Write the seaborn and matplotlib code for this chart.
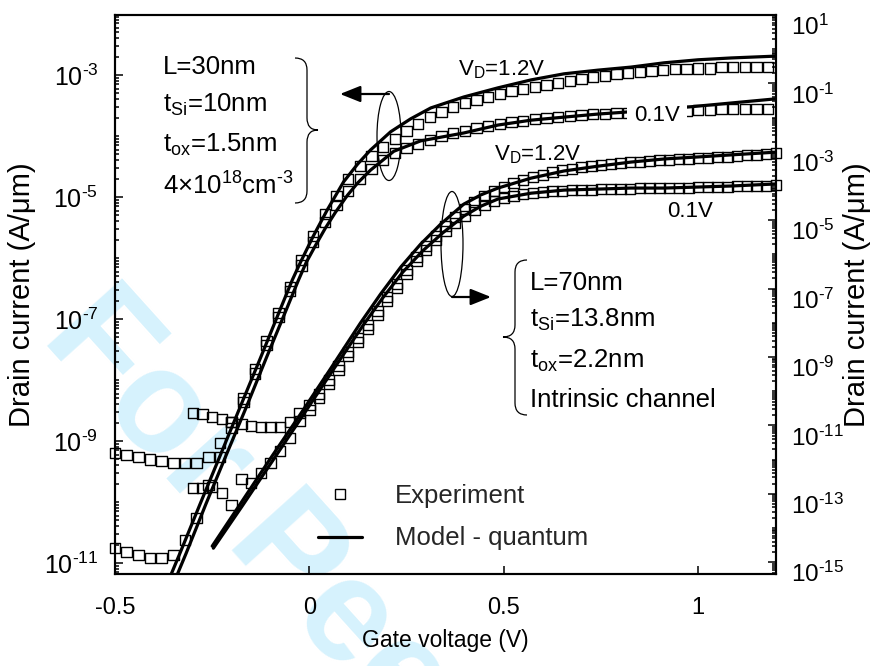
import numpy as np
import pandas as pd
import matplotlib
matplotlib.use("Agg")
import matplotlib.pyplot as plt
import seaborn as sns
from matplotlib.lines import Line2D
from matplotlib.patches import Ellipse, PathPatch, FancyArrowPatch
from matplotlib.path import Path
from matplotlib.ticker import LogLocator, NullFormatter, NullLocator
from matplotlib.transforms import ScaledTranslation

# ---------------- gate-voltage sweeps (V) ----------------
vg_30 = np.round(np.linspace(-0.50, 1.18, 57), 3)   # L = 30 nm device, 30 mV step
vg_70 = np.round(np.linspace(-0.30, 1.20, 61), 3)   # L = 70 nm device, 25 mV step

# ---------------- measured drain current, log10(A/um) ----------------
exp30_vd12 = [-9.20, -9.23, -9.26, -9.30, -9.33, -9.36, -9.36, -9.36, -9.26, -9.03,
              -8.69, -8.30, -7.82, -7.36, -6.90, -6.48, -6.03, -5.64, -5.28, -4.98,
              -4.70, -4.49, -4.33, -4.18, -4.05, -3.92, -3.80, -3.69, -3.61, -3.52,
              -3.46, -3.41, -3.36, -3.31, -3.26, -3.23, -3.20, -3.16, -3.13, -3.10,
              -3.07, -3.03, -3.02, -2.98, -2.97, -2.95, -2.93, -2.92, -2.90, -2.90,
              -2.89, -2.89, -2.87, -2.87, -2.87, -2.87, -2.87]
exp30_vd01 = [-10.75, -10.82, -10.87, -10.92, -10.92, -10.87, -10.62, -10.26, -9.72, -9.26,
              -8.79, -8.36, -7.89, -7.43, -6.97, -6.54, -6.12, -5.74, -5.41, -5.13,
              -4.90, -4.70, -4.54, -4.39, -4.28, -4.20, -4.13, -4.07, -4.00, -3.95,
              -3.92, -3.87, -3.84, -3.80, -3.77, -3.75, -3.72, -3.70, -3.69, -3.67,
              -3.66, -3.64, -3.64, -3.62, -3.62, -3.61, -3.61, -3.59, -3.59, -3.59,
              -3.57, -3.57, -3.56, -3.56, -3.56, -3.56, -3.56]
exp70_vd12 = [-10.64, -10.67, -10.75, -10.81, -10.90, -10.96, -11.02, -11.05, -11.05, -11.05,
              -10.90, -10.64, -10.40, -10.08, -9.67, -9.26, -8.85, -8.44, -8.06, -7.65,
              -7.25, -6.87, -6.46, -6.08, -5.75, -5.46, -5.17, -4.91, -4.67, -4.47,
              -4.29, -4.15, -4.03, -3.91, -3.83, -3.74, -3.68, -3.59, -3.53, -3.50,
              -3.44, -3.42, -3.39, -3.36, -3.33, -3.30, -3.30, -3.27, -3.24, -3.24,
              -3.21, -3.21, -3.18, -3.18, -3.15, -3.15, -3.12, -3.09, -3.09, -3.06,
              -3.04]
exp70_vd01 = [-12.83, -12.83, -12.80, -12.98, -13.33, -12.57, -12.68, -12.39, -12.10, -11.75,
              -11.37, -10.87, -10.55, -10.20, -9.79, -9.38, -8.97, -8.56, -8.18, -7.77,
              -7.36, -6.98, -6.57, -6.19, -5.87, -5.58, -5.32, -5.08, -4.88, -4.70,
              -4.56, -4.44, -4.35, -4.29, -4.23, -4.21, -4.18, -4.15, -4.15, -4.12,
              -4.12, -4.12, -4.09, -4.09, -4.09, -4.09, -4.06, -4.06, -4.06, -4.06,
              -4.06, -4.06, -4.03, -4.03, -4.03, -4.03, -4.00, -4.00, -4.00, -4.00,
              -3.97]

# ---------------- quantum model, log10(A/um) ----------------
mod30_vd12_vg = [-0.369, -0.333, -0.281, -0.229, -0.178, -0.126, -0.075, -0.044, -0.023, 0.010,
                 0.046, 0.088, 0.124, 0.157, 0.209, 0.260, 0.312, 0.397, 0.485, 0.570,
                 0.655, 0.742, 0.827, 0.912, 1.000, 1.085, 1.200]
mod30_vd12 = [-11.39, -10.84, -10.03, -9.23, -8.44, -7.64, -6.84, -6.36, -6.07, -5.64,
              -5.21, -4.75, -4.46, -4.23, -3.93, -3.72, -3.54, -3.36, -3.21, -3.08,
              -2.98, -2.92, -2.87, -2.80, -2.75, -2.72, -2.69]
mod30_vd01_vg = [-0.353, -0.317, -0.266, -0.214, -0.162, -0.111, -0.059, -0.028, -0.008, 0.016,
                 0.041, 0.067, 0.098, 0.124, 0.157, 0.217, 0.286, 0.397, 0.485, 0.570,
                 0.655, 0.742, 0.809, 0.982, 1.200]
mod30_vd01 = [-11.39, -10.84, -10.03, -9.23, -8.44, -7.64, -6.84, -6.36, -6.07, -5.79,
              -5.51, -5.25, -4.97, -4.77, -4.56, -4.25, -4.08, -3.95, -3.82, -3.74,
              -3.69, -3.64, -3.61, -3.52, -3.39]
mod70_vd12_vg = [-0.250, -0.178, -0.101, -0.023, 0.054, 0.131, 0.183, 0.235, 0.286, 0.338,
                 0.397, 0.441, 0.485, 0.570, 0.655, 0.742, 0.827, 0.912, 1.000, 1.085, 1.200]
mod70_vd12 = [-14.53, -13.30, -11.98, -10.67, -9.35, -8.01, -7.16, -6.37, -5.70, -5.11,
              -4.53, -4.26, -4.06, -3.77, -3.56, -3.42, -3.30, -3.21, -3.15, -3.09, -3.01]
mod70_vd01_vg = [-0.247, -0.173, -0.095, -0.018, 0.059, 0.137, 0.188, 0.240, 0.291, 0.343,
                 0.397, 0.441, 0.485, 0.570, 0.655, 0.742, 0.827, 0.912, 1.000, 1.085, 1.200]
mod70_vd01 = [-14.59, -13.36, -12.04, -10.73, -9.41, -8.09, -7.28, -6.52, -5.90, -5.37,
              -4.88, -4.59, -4.38, -4.21, -4.12, -4.09, -4.06, -4.06, -4.03, -4.00, -3.94]

left_exps = [-11, -9, -7, -5, -3]
right_exps = [-15, -13, -11, -9, -7, -5, -3, -1, 1]
x_ticks = [-0.5, 0.0, 0.5, 1.0]
x_labels = ["-0.5", "0", "0.5", "1"]


def pow10_label(e):
    # short hyphen in the exponent, as in the printed axis
    s = str(e).replace("-", "\u2010")
    return r"$\mathregular{10^{" + s + "}}$"


# ---------------- style ----------------
sns.set_theme(style="white")
plt.rcParams["font.family"] = ["Liberation Sans", "DejaVu Sans"]
plt.rcParams["mathtext.fontset"] = "custom"
plt.rcParams["mathtext.rm"] = "Liberation Sans"
plt.rcParams["mathtext.it"] = "Liberation Sans:italic"
plt.rcParams["mathtext.bf"] = "Liberation Sans:bold"
plt.rcParams["axes.unicode_minus"] = False

W, H = 872, 666
fig = plt.figure(figsize=(W / 100, H / 100), dpi=100)
fig.patch.set_facecolor("white")


def fpt(x, y):
    """figure-pixel position (origin top-left) -> figure fraction"""
    return (x / W, 1 - y / H)


ax = fig.add_axes([115 / W, 1 - 573.5 / H, (776 - 115) / W, (573.5 - 15) / H])
ax2 = ax.twinx()
for a in (ax, ax2):
    a.set_facecolor("none")


def frame(vg, logi):
    return pd.DataFrame({"vg": np.asarray(vg, dtype=float), "id": 10.0 ** np.asarray(logi)})


scat_kw = dict(marker="s", s=56, facecolor="none", edgecolor="black", linewidth=1.0,
               clip_on=False, zorder=3, legend=False)
line_kw = dict(color="black", linewidth=2.3, sort=False, estimator=None, legend=False, zorder=2)

# L = 30 nm  (left axis)
for vg, li in ((vg_30, exp30_vd12), (vg_30, exp30_vd01)):
    sns.scatterplot(data=frame(vg, li), x="vg", y="id", ax=ax, **scat_kw)
for vg, li in ((mod30_vd12_vg, mod30_vd12), (mod30_vd01_vg, mod30_vd01)):
    sns.lineplot(data=frame(vg, li), x="vg", y="id", ax=ax, **line_kw)

# L = 70 nm  (right axis)
for vg, li in ((vg_70, exp70_vd12), (vg_70, exp70_vd01)):
    sns.scatterplot(data=frame(vg, li), x="vg", y="id", ax=ax2, **scat_kw)
for vg, li in ((mod70_vd12_vg, mod70_vd12), (mod70_vd01_vg, mod70_vd01)):
    sns.lineplot(data=frame(vg, li), x="vg", y="id", ax=ax2, **line_kw)

# ---------------- axes ----------------
ax.set_yscale("log")
ax2.set_yscale("log")
ax.set_ylim(10 ** -11.172, 10 ** -2.016)
ax2.set_ylim(10 ** -15.33, 10 ** 1.0)
ax.set_xlim(-0.5, 1.2)

ax.set_xticks(x_ticks, labels=x_labels)
ax.xaxis.set_minor_locator(NullLocator())
ax.set_yticks([10.0 ** e for e in left_exps], labels=[pow10_label(e) for e in left_exps])
ax.yaxis.set_minor_locator(LogLocator(base=10, subs=np.arange(1, 10), numticks=200))
ax.yaxis.set_minor_formatter(NullFormatter())
ax2.set_yticks([10.0 ** e for e in right_exps], labels=[pow10_label(e) for e in right_exps])
ax2.yaxis.set_minor_locator(LogLocator(base=10, subs=np.arange(1, 10), numticks=200))
ax2.yaxis.set_minor_formatter(NullFormatter())

ax.tick_params(axis="both", which="both", direction="in", top=False, right=False,
               bottom=True, left=True, width=1.1, colors="black")
ax.tick_params(axis="x", labelsize=17, pad=17)
ax.tick_params(axis="y", labelsize=18, pad=12)
ax.tick_params(axis="both", which="major", length=6)
ax.tick_params(axis="y", which="minor", length=3)
ax2.tick_params(axis="y", which="both", direction="in", left=False, right=True,
                labelsize=17.5, width=1.1, colors="black", pad=11)
ax2.tick_params(axis="y", which="major", length=6)
ax2.tick_params(axis="y", which="minor", length=3)

for a in (ax, ax2):
    for sp in a.spines.values():
        sp.set_color("black")
        sp.set_linewidth(1.5)
        sp.set_visible(True)

ax.set_xlabel("Gate voltage (V)", fontsize=16.5, color="black")
ax.xaxis.label.set_va("center")
ax.xaxis.set_label_coords(0.5, (573.5 - 640) / 558.5)
ax.set_ylabel("Drain current (A/μm)", fontsize=21, color="black")
ax.yaxis.label.set_va("center")
ax.yaxis.set_label_coords((22 - 115) / 661, 0.5)
ax2.set_ylabel("Drain current (A/μm)", fontsize=21, color="black", rotation=90)
ax2.yaxis.label.set_va("center")
ax2.yaxis.set_label_coords((857 - 115) / 661, 0.5)

# right-hand labels sit just below their ticks
shift = ScaledTranslation(0, -0.10, fig.dpi_scale_trans)
for lbl in ax2.get_yticklabels():
    lbl.set_transform(lbl.get_transform() + shift)

# ---------------- legend ----------------
handles = [Line2D([], [], marker="s", ls="none", mfc="none", mec="black", ms=7.5, mew=1.0),
           Line2D([], [], color="black", lw=2.3)]
fig.legend(handles, ["Experiment", "Model - quantum"], loc="upper left",
           bbox_to_anchor=fpt(318, 484), bbox_transform=fig.transFigure,
           frameon=False, fontsize=18.5, handlelength=1.7, handletextpad=1.3,
           labelspacing=0.72, borderpad=0, borderaxespad=0)

# ---------------- annotations ----------------
txt = dict(fontsize=18.5, color="black", ha="left", va="baseline")
fig.text(*fpt(163, 74), "L=30nm", **txt)
fig.text(*fpt(163, 112), r"t$\mathregular{_{Si}}$=10nm", **txt)
fig.text(*fpt(163, 152), r"t$\mathregular{_{ox}}$=1.5nm", **txt)
fig.text(*fpt(163, 195), "4×10$\\mathregular{^{18}}$cm$\\mathregular{^{\u20103}}$", **txt)

fig.text(*fpt(530, 290), "L=70nm", **txt)
fig.text(*fpt(530, 327), r"t$\mathregular{_{Si}}$=13.8nm", **txt)
fig.text(*fpt(530, 368), r"t$\mathregular{_{ox}}$=2.2nm", **txt)
fig.text(*fpt(530, 407), "Intrinsic channel", **txt)

vtxt = dict(fontsize=16, color="black", ha="center", va="baseline")
fig.text(*fpt(502, 75), r"V$\mathregular{_D}$=1.2V", **vtxt)
fig.text(*fpt(657, 121), "0.1V", bbox=dict(facecolor="white", edgecolor="none", pad=5), **vtxt)
fig.text(*fpt(538, 160), r"V$\mathregular{_D}$=1.2V", **vtxt)
fig.text(*fpt(690, 217), "0.1V", **vtxt)


def brace(xs, y0, ym, y1, w, c, r):
    pts = [(xs - w, y0), (xs, y0), (xs, y0 + r), (xs, ym - r), (xs, ym), (xs + c, ym),
           (xs, ym), (xs, ym + r), (xs, y1 - r), (xs, y1), (xs - w, y1)]
    codes = [Path.MOVETO, Path.CURVE3, Path.CURVE3, Path.LINETO, Path.CURVE3, Path.CURVE3,
             Path.CURVE3, Path.CURVE3, Path.LINETO, Path.CURVE3, Path.CURVE3]
    return PathPatch(Path([fpt(x, y) for x, y in pts], codes), transform=fig.transFigure,
                     facecolor="none", edgecolor="black", lw=0.9)


fig.add_artist(brace(307, 58, 130, 203, 12, 11, 12))
fig.add_artist(brace(515, 260, 337, 415, -12, -12, 12))

for cx, cy, ew, eh in ((389, 136, 24, 89), (452, 244, 22, 105)):
    fig.add_artist(Ellipse(fpt(cx, cy), ew / W, eh / H, transform=fig.transFigure,
                           facecolor="none", edgecolor="black", lw=0.9))

for p0, p1 in (((389, 94), (340, 94)), ((452, 297), (491, 297))):
    fig.add_artist(FancyArrowPatch(fpt(*p0), fpt(*p1), transform=fig.transFigure,
                                   arrowstyle="-|>,head_length=1.25,head_width=0.5",
                                   mutation_scale=10, lw=1.6, color="black",
                                   shrinkA=0, shrinkB=0))

# review watermark behind the plot
fig.text(*fpt(40, 338), "For Peer Review", rotation=-48, rotation_mode="anchor",
         ha="left", va="baseline", fontsize=105, fontweight="bold",
         color="#d6f2fd", zorder=-5)

fig.savefig("out.png", dpi=100, facecolor="white")
